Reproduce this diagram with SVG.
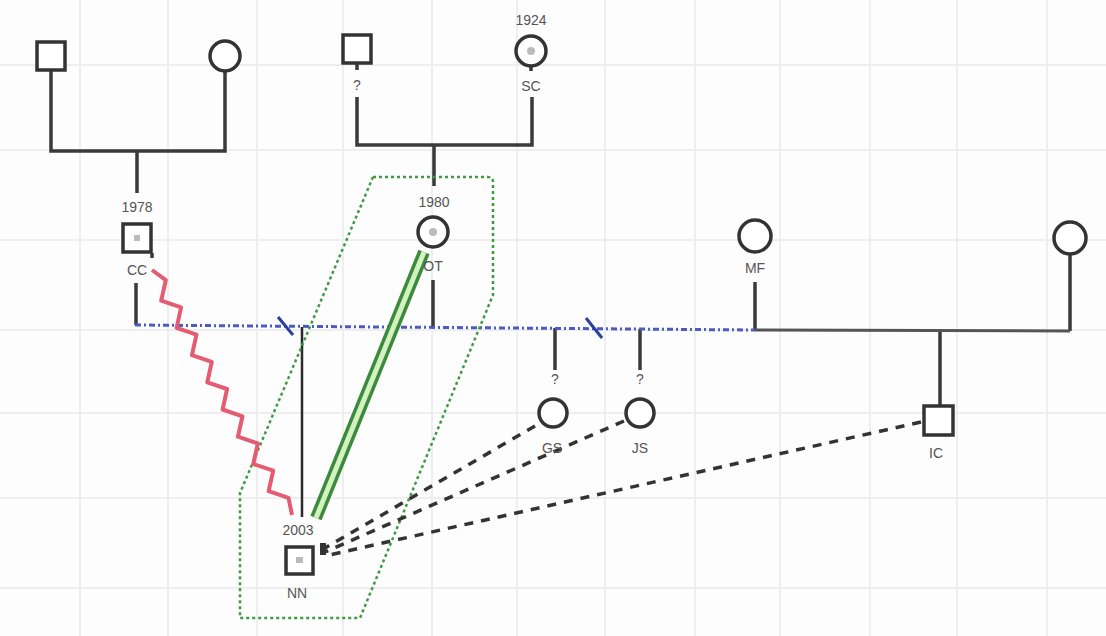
<svg xmlns="http://www.w3.org/2000/svg" width="1106" height="636" viewBox="0 0 1106 636">
<style>
.grid line{stroke:#eeeeee;stroke-width:2}
.node{fill:#fff;stroke:#333;stroke-width:3.5}
.ln{stroke:#3a3a3a;stroke-width:3.5;fill:none}
.lbl{font-family:"Liberation Sans",Arial,sans-serif;font-size:14px;fill:#555;text-anchor:middle}
.mark{fill:#bbb}
.rel{stroke:#333;stroke-width:3.5;stroke-dasharray:9 8;fill:none}
</style>
<rect width="1106" height="636" fill="#fdfdfd"/>
<g class="grid">
<line x1="80" y1="0" x2="80" y2="636"/><line x1="168" y1="0" x2="168" y2="636"/><line x1="257" y1="0" x2="257" y2="636"/><line x1="343" y1="0" x2="343" y2="636"/><line x1="432" y1="0" x2="432" y2="636"/><line x1="517" y1="0" x2="517" y2="636"/><line x1="605" y1="0" x2="605" y2="636"/><line x1="695" y1="0" x2="695" y2="636"/><line x1="780" y1="0" x2="780" y2="636"/><line x1="870" y1="0" x2="870" y2="636"/><line x1="957" y1="0" x2="957" y2="636"/><line x1="1047" y1="0" x2="1047" y2="636"/>
<line x1="0" y1="65" x2="1106" y2="65"/><line x1="0" y1="150" x2="1106" y2="150"/><line x1="0" y1="240" x2="1106" y2="240"/><line x1="0" y1="330" x2="1106" y2="330"/><line x1="0" y1="413" x2="1106" y2="413"/><line x1="0" y1="498" x2="1106" y2="498"/><line x1="0" y1="588" x2="1106" y2="588"/>
</g>
<g id="connectors">
<path class="ln" d="M51,70 V151 H225 V71 M137,151 V193"/>
<path class="ln" d="M357,97 V145 H532 V97 M434,145 V186 M357,64 V70 M531,66 V71"/>
<path class="ln" d="M136,283 V325 M433,280 V327 M555,328 V370 M640,329 V370 M755,282 V330 M1070,254 V331 M940,331 V405 M152,253 V258"/>
<path d="M302,327 V517" stroke="#2a2a2a" stroke-width="2.5" fill="none"/>
<path d="M135,325 L755,330" stroke="#4a5bc4" stroke-width="3" stroke-dasharray="6 3 2 3" fill="none"/>
<path d="M755,330 L1070,331" stroke="#555" stroke-width="3" fill="none"/>
<path d="M278,317 L293,335 M586,318 L602,338" stroke="#2c3f9a" stroke-width="3" fill="none"/>
<path d="M373,177 H488 Q493,177 493,182 V295 L360,618 H240 V493 Z" stroke="#3f9b3f" stroke-width="2.5" stroke-dasharray="3 3" fill="none"/>
<path d="M152,270 L165.8,280.2 L161.2,300.7 L181.1,307.4 L176.6,327.9 L196.5,334.6 L191.9,355.1 L211.8,361.8 L207.3,382.3 L227.1,389 L222.6,409.5 L242.5,416.3 L237.9,436.7 L257.8,443.5 L253.3,464 L273.2,470.7 L268.6,491.2 L288.5,497.9 L292,515" stroke="#e45c72" stroke-width="4" fill="none" stroke-linejoin="round"/>
<path d="M424,252 L316,518" stroke="#3d8a3d" stroke-width="12" fill="none"/>
<path d="M424,252 L316,518" stroke="#d2f2c0" stroke-width="5" fill="none"/>
<path class="rel" d="M535,426 L325,548"/>
<path class="rel" d="M624,421 L325,552"/>
<path class="rel" d="M921,422 L325,556"/>
<rect x="320" y="543" width="6" height="12" fill="#333"/>
</g>
<g id="n-tl-m"><rect class="node" x="37" y="42" width="28" height="28"/></g>
<g id="n-tl-f"><circle class="node" cx="225" cy="56" r="15"/></g>
<g id="n-q"><rect class="node" x="343" y="35" width="28" height="28"/><text class="lbl" x="357" y="90">?</text></g>
<g id="n-sc"><text class="lbl" x="531" y="25">1924</text><circle class="node" cx="531" cy="51" r="15"/><circle class="mark" cx="531" cy="51" r="4"/><text class="lbl" x="531" y="91">SC</text></g>
<g id="n-cc"><text class="lbl" x="137" y="212">1978</text><rect class="node" x="123" y="224" width="28" height="28"/><rect class="mark" x="134" y="235" width="6" height="6"/><text class="lbl" x="137" y="275">CC</text></g>
<g id="n-ot"><text class="lbl" x="434" y="207">1980</text><circle class="node" cx="433" cy="232" r="15"/><circle class="mark" cx="433" cy="232" r="4"/><text class="lbl" x="433" y="271">OT</text></g>
<g id="n-mf"><circle class="node" cx="755" cy="236" r="16"/><text class="lbl" x="755" y="273">MF</text></g>
<g id="n-r"><circle class="node" cx="1070" cy="238" r="16"/></g>
<g id="n-gs"><text class="lbl" x="555" y="384">?</text><circle class="node" cx="553" cy="413" r="14"/><text class="lbl" x="552" y="453">GS</text></g>
<g id="n-js"><text class="lbl" x="640" y="384">?</text><circle class="node" cx="640" cy="413" r="14"/><text class="lbl" x="640" y="453">JS</text></g>
<g id="n-ic"><rect class="node" x="924" y="406" width="29" height="29"/><text class="lbl" x="936" y="458">IC</text></g>
<g id="n-nn"><text class="lbl" x="298" y="535">2003</text><rect class="node" x="286" y="547" width="27" height="27"/><rect class="mark" x="296" y="557" width="7" height="6"/><text class="lbl" x="297" y="598">NN</text></g>
</svg>
